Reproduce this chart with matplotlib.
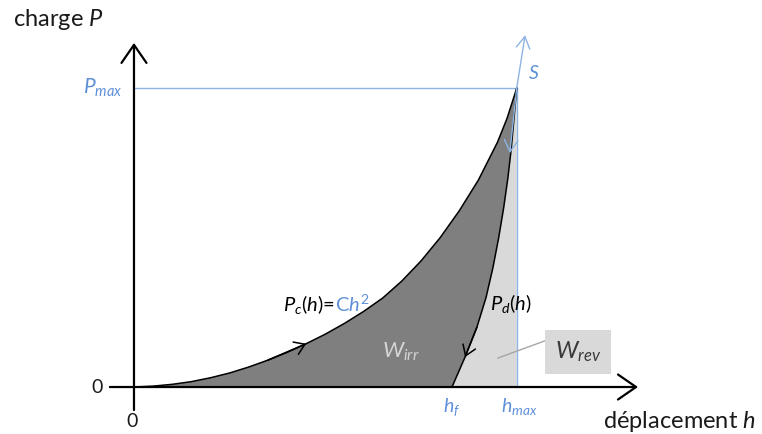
import matplotlib
matplotlib.use('Agg')
import matplotlib.pyplot as plt
from matplotlib.offsetbox import TextArea, HPacker, AnnotationBbox

plt.rcParams['font.family'] = ['Lato', 'DejaVu Sans']
plt.rcParams['mathtext.fontset'] = 'custom'
plt.rcParams['mathtext.rm'] = 'Lato'
plt.rcParams['mathtext.it'] = 'Lato:italic'
plt.rcParams['mathtext.bf'] = 'Lato:bold'

# loading curve P_c(h) (h and P scaled to h_max = P_max = 1)
load_h = [0, 0.05, 0.10, 0.15, 0.20, 0.25, 0.30, 0.35, 0.40, 0.45, 0.50, 0.55,
          0.60, 0.65, 0.70, 0.75, 0.80, 0.85, 0.90, 0.95, 0.975, 1.0]
load_P = [0, 0.003, 0.009, 0.018, 0.031, 0.047, 0.067, 0.090, 0.116, 0.145, 0.177, 0.213,
          0.253, 0.298, 0.355, 0.422, 0.500, 0.590, 0.693, 0.820, 0.900, 1.0]

# unloading curve P_d(h)
unload_h = [0.831, 0.865, 0.896, 0.920, 0.938, 0.953, 0.966, 0.977, 0.986, 0.993, 1.0]
unload_P = [0, 0.1, 0.2, 0.3, 0.4, 0.5, 0.6, 0.7, 0.8, 0.9, 1.0]

h_max, P_max = 1.0, 1.0
h_f = unload_h[0]

dark = '#7f7f7f'
light = '#d9d9d9'
blue_line = '#8db4e2'
blue_txt = '#5f91d9'

fig = plt.figure(figsize=(7.62, 4.34), dpi=100)
ax = fig.add_axes([0, 0, 1, 1])
ax.set_xlim(-0.3501, 1.641)
ax.set_ylim(-0.1573, 1.2956)
ax.axis('off')

# areas W_irr and W_rev
ax.fill(load_h + unload_h[::-1], load_P + unload_P[::-1], color=dark, lw=0)
ax.fill(unload_h + [h_max], unload_P + [0], color=light, lw=0)

# guide lines for P_max and h_max
ax.plot([0, h_max], [P_max, P_max], color=blue_line, lw=1.0)
ax.plot([h_max, h_max], [0, P_max], color=blue_line, lw=1.0)

# slope S at the top of the unloading curve
s_arrow = dict(arrowstyle='->,head_length=0.6,head_width=0.35', color=blue_line,
               lw=1.0, mutation_scale=14, shrinkA=0, shrinkB=0)
ax.annotate('', xy=(1.022, 1.178), xytext=(h_max, P_max), arrowprops=s_arrow)
ax.annotate('', xy=(0.982, 0.783), xytext=(h_max, P_max), arrowprops=s_arrow)

# curves
ax.plot(load_h, load_P, color='black', lw=1.1)
ax.plot(unload_h, unload_P, color='black', lw=1.1)
curve_arrow = dict(arrowstyle='->,head_length=0.6,head_width=0.4', color='black',
                   lw=1.1, mutation_scale=12, shrinkA=0, shrinkB=0)
ax.annotate('', xy=(load_h[9], load_P[9]), xytext=(load_h[7], load_P[7]), arrowprops=curve_arrow)
ax.annotate('', xy=(unload_h[1], unload_P[1]), xytext=(unload_h[2], unload_P[2]), arrowprops=curve_arrow)

# axes with arrows
axis_arrow = dict(arrowstyle='->,head_length=0.65,head_width=0.45', color='black',
                  lw=1.6, mutation_scale=20, shrinkA=0, shrinkB=0)
ax.annotate('', xy=(1.317, 0), xytext=(-0.063, 0), arrowprops=axis_arrow)
ax.annotate('', xy=(0, 1.152), xytext=(0, -0.077), arrowprops=axis_arrow)

# labels
ax.text(-0.316, 1.229, 'charge $P$', fontsize=17, va='center', ha='left', color='#1a1a1a')
ax.text(1.2255, -0.117, 'déplacement $h$', fontsize=17, va='center', ha='left', color='#1a1a1a')
ax.text(-0.0967, 0, '0', fontsize=14, va='center', ha='center', color='#1a1a1a')
ax.text(-0.005, -0.114, '0', fontsize=14, va='center', ha='center', color='#1a1a1a')
ax.text(-0.0287, P_max, r'$P_{max}$', fontsize=15, va='center', ha='right', color=blue_txt)
ax.text(h_f, -0.067, r'$h_f$', fontsize=14, va='center', ha='center', color=blue_txt)
ax.text(1.006, -0.064, r'$h_{max}$', fontsize=14, va='center', ha='center', color=blue_txt)
ax.text(1.045, 1.051, r'$S$', fontsize=14, va='center', ha='center', color=blue_txt)

pc = HPacker(children=[TextArea(r'$P_c(h)$=', textprops=dict(fontsize=14.5, color='black')),
                       TextArea(r'C$h^2$', textprops=dict(fontsize=14.5, color=blue_txt))],
             align='baseline', pad=0, sep=0)
ax.add_artist(AnnotationBbox(pc, (0.389, 0.275), frameon=False, box_alignment=(0, 0.5)))
ax.text(0.930, 0.281, r'$P_d(h)$', fontsize=14.5, va='center', ha='left', color='black')

ax.text(0.648, 0.117, r'$W_{irr}$', fontsize=16, va='center', ha='left', color='#d4d4d4')

# W_rev callout
ax.plot([0.951, 1.079], [0.097, 0.157], color='#a6a6a6', lw=1.0)
ax.text(1.160, 0.117, r'$W_{rev}$', fontsize=17, va='center', ha='center', color='#3a3a3a',
        bbox=dict(boxstyle='square,pad=0.4', fc=light, ec='none'))

fig.savefig('out.png', dpi=100)
